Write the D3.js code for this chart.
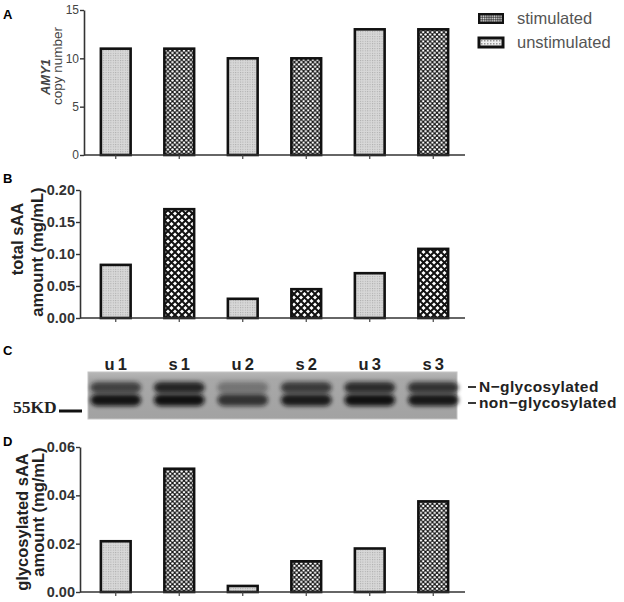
<!DOCTYPE html>
<html>
<head>
<meta charset="utf-8">
<script src="https://cdn.jsdelivr.net/npm/d3@7/dist/d3.min.js"></script>
<style>
  body { margin: 0; background: #fff; }
  svg { display: block; font-family: "Liberation Sans", Arial, sans-serif; }
</style>
</head>
<body>
<svg id="fig" width="624" height="602"></svg>
<script>
"use strict";

// ---- data ----
const samples = ["u1", "s1", "u2", "s2", "u3", "s3"];
const copyNumber = [11, 11, 10, 10, 13, 13];
const totalSAA = [0.083, 0.17, 0.03, 0.045, 0.07, 0.108];
const glycoSAA = [0.021, 0.051, 0.0025, 0.0127, 0.018, 0.0375];
// relative darkness of the two blot bands in each lane
const bandUpper = [0.7, 0.9, 0.35, 0.75, 0.85, 0.8];
const bandLower = [0.95, 0.97, 0.75, 0.9, 0.97, 0.92];
const ticksA = [0, 5, 10, 15];
const ticksB = [0, 0.05, 0.1, 0.15, 0.2];
const ticksD = [0, 0.02, 0.04, 0.06];
const legendLabels = ["stimulated", "unstimulated"];
const bandLabels = ["N\u2212glycosylated", "non\u2212glycosylated"];

const svg = d3.select("#fig");
const defs = svg.append("defs");

// ---- fill patterns ----
function addPattern(id, size, draw) {
    let p = defs.append("pattern")
        .attr("id", id)
        .attr("patternUnits", "userSpaceOnUse")
        .attr("width", size)
        .attr("height", size);
    draw(p, size);
}
// light dotted fill (unstimulated bars)
addPattern("unstim", 2.4, function (p, s) {
    p.append("rect").attr("width", s).attr("height", s).attr("fill", "#d8d8d8");
    p.append("rect").attr("width", 1).attr("height", 1).attr("fill", "#a9a9a9");
});
// white dots on black (stimulated bars, panels A and D)
addPattern("stimDots", 4.6, function (p, s) {
    p.append("rect").attr("width", s).attr("height", s).attr("fill", "#111");
    [[0, 0], [s, 0], [0, s], [s, s], [s / 2, s / 2]].forEach(function (c) {
        p.append("circle").attr("cx", c[0]).attr("cy", c[1]).attr("r", 1.25).attr("fill", "#fff");
    });
});
// diamond lattice (stimulated bars, panel B)
addPattern("stimHatch", 7, function (p, s) {
    p.append("rect").attr("width", s).attr("height", s).attr("fill", "#fff");
    p.append("path")
        .attr("d", "M0,0L" + s + "," + s + "M" + s + ",0L0," + s)
        .attr("stroke", "#111").attr("stroke-width", 2);
});
// legend fills
addPattern("legStim", 2.2, function (p, s) {
    p.append("rect").attr("width", s).attr("height", s).attr("fill", "#444");
    p.append("circle").attr("cx", 1.1).attr("cy", 1.1).attr("r", 0.7).attr("fill", "#ddd");
});
addPattern("legUnstim", 3, function (p, s) {
    p.append("rect").attr("width", s).attr("height", s).attr("fill", "#f0f0f0");
    p.append("rect").attr("width", 1.5).attr("height", 1.5).attr("fill", "#999");
});

// blur for the blot bands
defs.append("filter").attr("id", "blur")
    .attr("x", "-30%").attr("y", "-100%").attr("width", "160%").attr("height", "300%")
    .append("feGaussianBlur").attr("stdDeviation", 2.3);

// ---- shared x scale (bar lanes and blot lanes line up) ----
const x = d3.scaleBand()
    .domain(samples)
    .range([84, 465])
    .paddingInner(0.5)
    .paddingOuter(0.25);

function isStim(s) { return s.charAt(0) === "s"; }

// draws one bar panel
function barPanel(opt) {
    let y = d3.scaleLinear().domain(opt.domain).range([opt.bottom, opt.top]);
    let g = svg.append("g");

    // bars
    g.selectAll("rect.bar")
        .data(samples)
        .enter().append("rect")
        .attr("class", "bar")
        .attr("x", function (d) { return x(d) + 1; })
        .attr("width", x.bandwidth() - 2)
        .attr("y", function (d, i) { return y(opt.values[i]); })
        .attr("height", function (d, i) { return y(0) - y(opt.values[i]); })
        .attr("fill", function (d) { return isStim(d) ? "url(#" + opt.stimFill + ")" : "url(#unstim)"; })
        .attr("stroke", "#111")
        .attr("stroke-width", 2.6);

    // y axis
    let yAx = g.append("g")
        .attr("transform", "translate(" + opt.axisX + ",0)")
        .call(d3.axisLeft(y).tickValues(opt.ticks).tickFormat(opt.format).tickSize(4).tickSizeOuter(0));
    yAx.select(".domain").attr("stroke", "#333").attr("stroke-width", 1.6);
    yAx.selectAll(".tick line").attr("stroke", "#333").attr("stroke-width", 1.4);
    yAx.selectAll(".tick text")
        .attr("x", -5)
        .attr("fill", opt.tickColor)
        .style("font-size", opt.tickSize + "px")
        .style("font-weight", opt.tickWeight);

    // x axis: line from the y axis to the end, small ticks under each bar
    g.append("line")
        .attr("x1", opt.axisX).attr("x2", x.range()[1])
        .attr("y1", y(0)).attr("y2", y(0))
        .attr("stroke", "#333").attr("stroke-width", 1.6);
    let xAx = g.append("g")
        .attr("transform", "translate(0," + y(0) + ")")
        .call(d3.axisBottom(x).tickFormat("").tickSize(4).tickSizeOuter(0));
    xAx.select(".domain").remove();
    xAx.selectAll(".tick line").attr("stroke", "#444").attr("stroke-width", 1.2);

    // axis title (rotated lines)
    opt.title.forEach(function (t) {
        g.append("text")
            .attr("transform", "translate(" + t.x + "," + t.y + ") rotate(-90)")
            .attr("text-anchor", "middle")
            .attr("fill", t.color || "#222")
            .style("font-size", t.size + "px")
            .style("font-weight", t.weight || "bold")
            .style("font-style", t.italic ? "italic" : "normal")
            .text(t.text);
    });

    // panel letter
    svg.append("text")
        .attr("x", 3).attr("y", opt.letterY)
        .style("font-size", "13px").style("font-weight", "bold")
        .text(opt.letter);
}

// ---- panel A ----
barPanel({
    letter: "A", letterY: 19,
    values: copyNumber, domain: [0, 15], top: 10, bottom: 155,
    ticks: ticksA, format: d3.format("d"), axisX: 84,
    tickColor: "#444", tickSize: 12, tickWeight: "normal",
    stimFill: "stimDots",
    title: [
        { text: "AMY1", x: 50, y: 77, size: 13, weight: "bold", italic: true, color: "#444" },
        { text: "copy number", x: 62, y: 66, size: 13.5, weight: "normal", color: "#444" }
    ]
});

// ---- panel B ----
barPanel({
    letter: "B", letterY: 183,
    values: totalSAA, domain: [0, 0.2], top: 190, bottom: 318,
    ticks: ticksB, format: d3.format(".2f"), axisX: 80,
    tickColor: "#333", tickSize: 14.5, tickWeight: "bold",
    stimFill: "stimHatch",
    title: [
        { text: "total sAA", x: 23, y: 239, size: 16.5 },
        { text: "amount (mg/mL)", x: 43, y: 252, size: 16.5 }
    ]
});

// ---- panel D ----
barPanel({
    letter: "D", letterY: 446,
    values: glycoSAA, domain: [0, 0.06], top: 447, bottom: 592,
    ticks: ticksD, format: d3.format(".2f"), axisX: 80,
    tickColor: "#333", tickSize: 14.5, tickWeight: "bold",
    stimFill: "stimDots",
    title: [
        { text: "glycosylated sAA", x: 28, y: 522, size: 16.5 },
        { text: "amount (mg/mL)", x: 44, y: 512, size: 16.5 }
    ]
});

// ---- legend ----
const legend = svg.append("g").attr("transform", "translate(478,13)");
legendLabels.forEach(function (label, i) {
    let row = legend.append("g").attr("transform", "translate(0," + (i * 24) + ")");
    row.append("rect")
        .attr("x", 1).attr("y", 1).attr("width", 24).attr("height", 9)
        .attr("fill", i === 0 ? "url(#legStim)" : "url(#legUnstim)")
        .attr("stroke", "#111").attr("stroke-width", i === 0 ? 2 : 3);
    row.append("text")
        .attr("x", 39).attr("y", 11)
        .attr("fill", "#555")
        .style("font-size", "16.5px")
        .text(label);
});

// ---- panel C: western blot ----
svg.append("text")
    .attr("x", 3).attr("y", 355)
    .style("font-size", "13px").style("font-weight", "bold")
    .text("C");

const blotTop = 372, blotBottom = 419;
const blot = svg.append("g");
const blotGrad = defs.append("linearGradient")
    .attr("id", "blotBg").attr("x1", 0).attr("y1", 0).attr("x2", 0).attr("y2", 1);
blotGrad.selectAll("stop")
    .data([{ o: "0%", c: "#b8b8b8" }, { o: "15%", c: "#a8a8a8" }, { o: "100%", c: "#a2a2a2" }])
    .enter().append("stop")
    .attr("offset", function (d) { return d.o; })
    .attr("stop-color", function (d) { return d.c; });

blot.append("rect")
    .attr("x", 88).attr("y", blotTop)
    .attr("width", 457 - 88).attr("height", blotBottom - blotTop)
    .attr("fill", "url(#blotBg)")
    .attr("stroke", "#c4c4c4").attr("stroke-width", 1);

const laneW = x.step() * 0.8;
// upper (N-glycosylated) bands
blot.selectAll("rect.upper")
    .data(samples)
    .enter().append("rect")
    .attr("class", "upper")
    .attr("x", function (d) { return x(d) + x.bandwidth() / 2 - laneW / 2; })
    .attr("y", 382)
    .attr("width", laneW).attr("height", 11)
    .attr("rx", 7)
    .attr("fill", "#141414")
    .attr("opacity", function (d, i) { return bandUpper[i]; })
    .attr("filter", "url(#blur)");
// lower (non-glycosylated) bands
blot.selectAll("rect.lower")
    .data(samples)
    .enter().append("rect")
    .attr("class", "lower")
    .attr("x", function (d) { return x(d) + x.bandwidth() / 2 - laneW / 2; })
    .attr("y", 394)
    .attr("width", laneW).attr("height", 12)
    .attr("rx", 7)
    .attr("fill", "#0d0d0d")
    .attr("opacity", function (d, i) { return bandLower[i]; })
    .attr("filter", "url(#blur)");

// lane labels
blot.selectAll("text.lane")
    .data(samples)
    .enter().append("text")
    .attr("class", "lane")
    .attr("x", function (d) { return x(d) + x.bandwidth() / 2 + 1.5; })
    .attr("y", 370)
    .attr("text-anchor", "middle")
    .attr("fill", "#222")
    .style("font-size", "16.5px")
    .style("font-weight", "bold")
    .style("letter-spacing", "3px")
    .text(function (d) { return d; });

// size marker
blot.append("text")
    .attr("x", 13).attr("y", 413)
    .attr("fill", "#222")
    .style("font-family", "'Liberation Serif', 'Times New Roman', serif")
    .style("font-size", "17.5px")
    .style("font-weight", "bold")
    .text("55KD");
blot.append("line")
    .attr("x1", 59).attr("x2", 82).attr("y1", 411).attr("y2", 411)
    .attr("stroke", "#111").attr("stroke-width", 3);

// band annotations
bandLabels.forEach(function (label, i) {
    let yy = 387 + i * 16;
    blot.append("line")
        .attr("x1", 468).attr("x2", 476).attr("y1", yy).attr("y2", yy)
        .attr("stroke", "#222").attr("stroke-width", 1.8);
    blot.append("text")
        .attr("x", 479).attr("y", yy + 5)
        .attr("fill", "#222")
        .style("font-size", "15.5px")
        .style("font-weight", "bold")
        .style("letter-spacing", "0.4px")
        .text(label);
});
</script>
</body>
</html>
